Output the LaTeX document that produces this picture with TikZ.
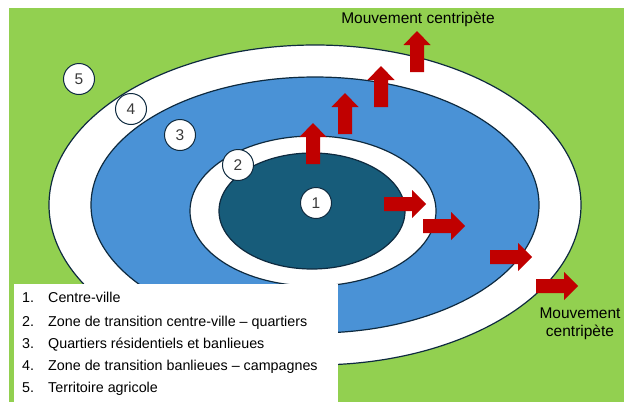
\documentclass[tikz,border=0pt]{standalone}
\usepackage{fontspec}
\setmainfont{Liberation Sans}
\definecolor{lgreen}{HTML}{92D050}
\definecolor{zblue}{HTML}{4A92D6}
\definecolor{zdark}{HTML}{175C7A}
\definecolor{zline}{HTML}{0E2A3F}
\definecolor{zred}{HTML}{C00000}
\definecolor{ztext}{HTML}{3A3A3A}
\begin{document}
\begin{tikzpicture}[x=1pt,y=-1pt,
  ring/.style={draw=zline, line width=1.2pt},
  numc/.style={circle, draw=zline, fill=white, line width=1pt, minimum size=31pt, inner sep=0pt,
    text=ztext, font=\fontsize{15.5}{15.5}\selectfont},
  lbl/.style={text=black, font=\fontsize{15.5}{18}\selectfont, inner sep=0pt},
  leg/.style={text=black, font=\fontsize{14.3}{16}\selectfont, inner sep=0pt, anchor=base west},
  uparrow/.pic={\fill[zred] (-7,0) -- (-7,-27) -- (-13.5,-27) -- (0,-41) -- (13.5,-27) -- (7,-27) -- (7,0) -- cycle;},
  rtarrow/.pic={\fill[zred] (0,-7) -- (28,-7) -- (28,-14) -- (42,0) -- (28,14) -- (28,7) -- (0,7) -- cycle;}
]
\useasboundingbox (0,0) rectangle (624,402);
\fill[lgreen] (8.5,8) rectangle (624,402);
% zones
\draw[ring, fill=white] (315,205) ellipse [x radius=266pt, y radius=160pt];
\draw[ring, fill=zblue] (315,205) ellipse [x radius=224pt, y radius=128pt];
\draw[ring, fill=white] (313,211) ellipse [x radius=123pt, y radius=75pt];
\draw[ring, fill=zdark] (312,211) ellipse [x radius=93pt, y radius=58pt];
% legend box
\fill[white] (14,284) rectangle (338,402);
% number circles
\node[numc] (c5) at (79,79) {5};
\node[numc] (c4) at (131,109) {4};
\node[numc] (c3) at (180,135) {3};
\node[numc] (c2) at (238,165) {2};
\node[numc] (c1) at (316,203) {1};
% arrows
\pic at (313,164) {uparrow};
\pic at (345,134) {uparrow};
\pic at (381,107) {uparrow};
\pic at (417,72) {uparrow};
\pic at (384,204) {rtarrow};
\pic at (423,226) {rtarrow};
\pic at (490,257) {rtarrow};
\pic at (536,286) {rtarrow};
% labels
\node[lbl] (mtop) at (418,19) {Mouvement centripète};
\node[lbl, align=center] (mright) at (580,324) {Mouvement\\centripète};
% legend
\node[leg] (n1) at (22,302) {1.};
\node[leg] (t1) at (48,302) {Centre-ville};
\node[leg] (n2) at (22,326) {2.};
\node[leg] (t2) at (48,326) {Zone de transition centre-ville – quartiers};
\node[leg] (n3) at (22,348) {3.};
\node[leg] (t3) at (48,348) {Quartiers résidentiels et banlieues};
\node[leg] (n4) at (22,370) {4.};
\node[leg] (t4) at (48,370) {Zone de transition banlieues – campagnes};
\node[leg] (n5) at (22,392) {5.};
\node[leg] (t5) at (48,392) {Territoire agricole};
\end{tikzpicture}
\end{document}
